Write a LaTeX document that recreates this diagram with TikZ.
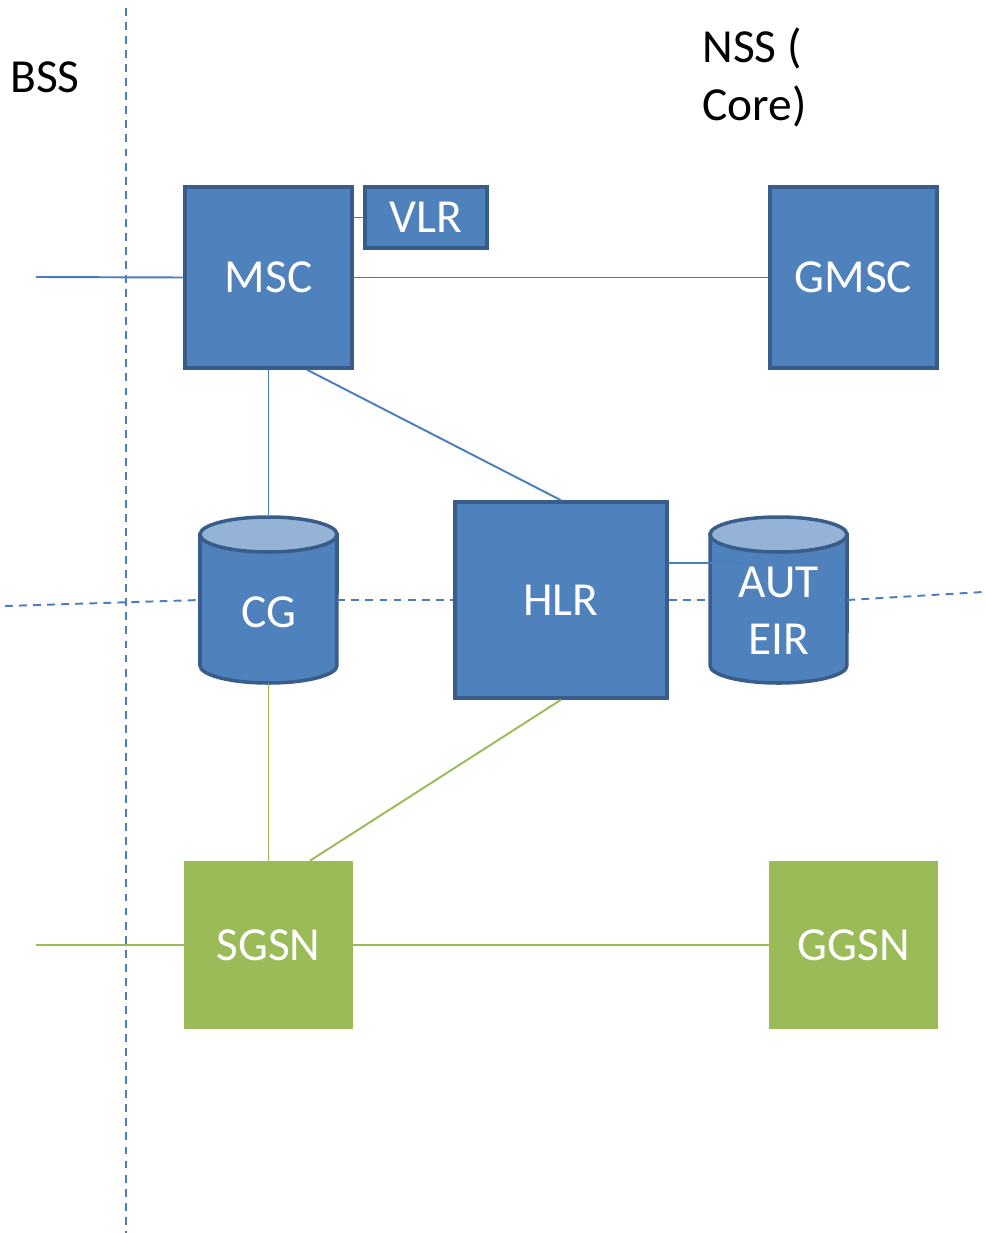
\documentclass[tikz,border=0pt]{standalone}
\usepackage{fontspec}
\setmainfont{Carlito}
\usepackage{tikz}

\definecolor{boxblue}{HTML}{4F81BD}
\definecolor{boxedge}{HTML}{385D8A}
\definecolor{drumtop}{HTML}{95B3D7}
\definecolor{lineblue}{HTML}{4A7EBB}
\definecolor{boxgreen}{HTML}{9BBB59}

% database drum: centre x, centre y (in px units of the picture)
\newcommand{\drum}[2]{%
  \filldraw[drumline] (#1-68.5,#2-65.5) -- (#1-68.5,#2+65.5)
    arc[start angle=180,end angle=360,x radius=1.37cm,y radius=0.35cm]
    -- (#1+68.5,#2-65.5) -- cycle;
  \filldraw[drumline,fill=drumtop] (#1,#2-65.5) ellipse[x radius=1.37cm,y radius=0.35cm];
}

\begin{document}
\begin{tikzpicture}[x=0.02cm,y=-0.02cm]
\tikzstyle{every node}=[font=\fontsize{27}{33}\selectfont];
\tikzstyle{bluebox}=[draw=boxedge,fill=boxblue,line width=2pt,text=white,minimum width=3.34cm,minimum height=3.62cm];
\tikzstyle{greenbox}=[fill=boxgreen,text=white,minimum width=3.38cm,minimum height=3.36cm];
\tikzstyle{drum}=[minimum width=2.74cm,minimum height=3.32cm,text=white];
\tikzstyle{drumline}=[draw=boxedge,fill=boxblue,line width=2pt];
\tikzstyle{blueline}=[draw=lineblue,line width=1.1pt];
\tikzstyle{greenline}=[draw=boxgreen,line width=1.1pt];
\tikzstyle{border}=[draw=lineblue,line width=1.1pt,dash pattern=on 4.5pt off 3.5pt];

\useasboundingbox (0,0) rectangle (986,1233);

% labels of the two parts
\node (bss) at (45,77) {BSS};
\node[anchor=north west,inner sep=0pt,align=left] (nss) at (702,27) {NSS (\\Core)};

% boxes
\node[bluebox] (msc) at (268.5,277.5) {MSC};
\node[bluebox,minimum width=2.44cm,minimum height=1.22cm] (vlr) at (426,217.5) {VLR};
\node[bluebox] (gmsc) at (853.5,277.5) {GMSC};
\node[bluebox,minimum width=4.24cm,minimum height=3.92cm] (hlr) at (561,600) {HLR};
\node[greenbox] (sgsn) at (268.5,945) {SGSN};
\node[greenbox] (ggsn) at (853.5,945) {GGSN};

% drums
\drum{268.5}{600}
\node[drum] (cg) at (268.5,600) {\raisebox{-0.54cm}[0pt][0pt]{CG}};
\drum{778.5}{600}
\node[drum] (aut) at (778.5,600) {\raisebox{-1.1cm}[0pt][0pt]{\begin{tabular}[b]{@{}c@{}}AUT\\EIR\end{tabular}}};

% free ends
\coordinate (vtop) at (126,8);
\coordinate (vbot) at (126,1233);
\coordinate (dleft) at (5,606);
\coordinate (dright) at (983,592);
\coordinate (mscin) at (36,277);
\coordinate (sgsnin) at (36,945);
\coordinate (autin) at (741,563);

% borders between parts
\draw[border] (vtop) -- (vbot);
\draw[border] (dleft) -- (cg.west);
\draw[border] (cg.east) -- (hlr.west);
\draw[border] (hlr.east) -- (aut.west);
\draw[border] (aut.east) -- (dright);

% circuit side
\draw[blueline] (mscin) -- (msc.west);
\draw[blueline] (msc.east |- vlr.west) -- (vlr.west);
\draw[blueline] (msc.east) -- (gmsc.west);
\draw[blueline] (msc.south) -- (cg.north);
\draw[blueline] ([xshift=0.77cm]msc.south) -- (hlr.north);
\draw[blueline] ([yshift=0.74cm]hlr.east) -- (autin);

% packet side
\draw[greenline] (sgsnin) -- (sgsn.west);
\draw[greenline] (sgsn.east) -- (ggsn.west);
\draw[greenline] (cg.south) -- (sgsn.north);
\draw[greenline] (hlr.south) -- ([xshift=0.83cm]sgsn.north);
\end{tikzpicture}
\end{document}
